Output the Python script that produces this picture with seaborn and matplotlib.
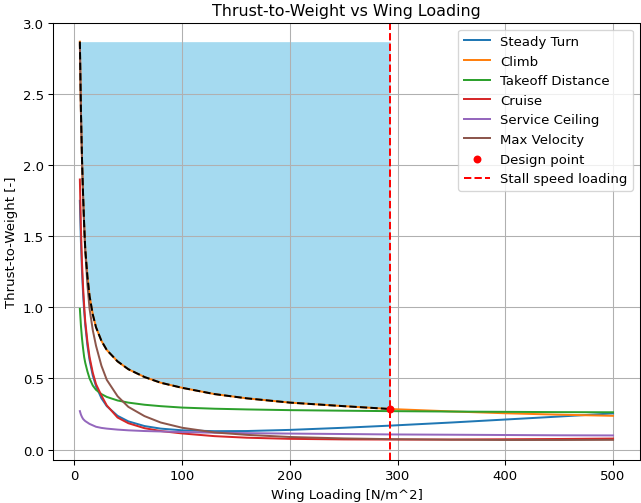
import numpy as np
import pandas as pd
import matplotlib
matplotlib.use("Agg")
import matplotlib.pyplot as plt
import seaborn as sns

# wing loading samples [N/m^2]
wing_loading = [5, 6, 7, 8, 9, 10, 12, 14, 17, 20, 25, 30, 40, 50, 65, 80,
                100, 130, 160, 200, 250, 293, 350, 400, 450, 500]

# T/W, one list per constraint
steady_turn = [1.75, 1.46, 1.25, 1.095, 0.975, 0.878, 0.733, 0.63, 0.52, 0.446,
               0.361, 0.305, 0.237, 0.198, 0.165, 0.147, 0.135, 0.129, 0.130,
               0.138, 0.153, 0.168, 0.19, 0.211, 0.232, 0.254]
climb = [2.87, 2.38, 2.04, 1.79, 1.58, 1.41, 1.22, 1.08, 0.95, 0.86, 0.765,
         0.70, 0.62, 0.565, 0.51, 0.47, 0.434, 0.39, 0.36, 0.33, 0.305,
         0.285, 0.268, 0.255, 0.245, 0.237]
takeoff = [0.99, 0.87, 0.78, 0.71, 0.65, 0.61, 0.55, 0.50, 0.45, 0.42, 0.39,
           0.37, 0.345, 0.33, 0.315, 0.305, 0.295, 0.287, 0.282, 0.277, 0.273,
           0.27, 0.267, 0.265, 0.263, 0.262]
cruise = [1.90, 1.55, 1.31, 1.14, 1.01, 0.90, 0.76, 0.65, 0.54, 0.46, 0.38,
          0.31, 0.225, 0.185, 0.15, 0.13, 0.113, 0.094, 0.083, 0.075, 0.071,
          0.070, 0.070, 0.072, 0.074, 0.077]
service_ceiling = [0.27, 0.245, 0.228, 0.215, 0.207, 0.20, 0.19, 0.18, 0.17,
                   0.16, 0.152, 0.147, 0.14, 0.135, 0.13, 0.127, 0.123, 0.118,
                   0.115, 0.112, 0.109, 0.106, 0.104, 0.102, 0.10, 0.099]
max_velocity = [2.85, 2.37, 2.03, 1.77, 1.57, 1.40, 1.16, 0.99, 0.84, 0.73,
                0.59, 0.49, 0.375, 0.30, 0.235, 0.19, 0.153, 0.12, 0.103, 0.088,
                0.078, 0.073, 0.069, 0.067, 0.067, 0.068]

curve_names = ["Steady Turn", "Climb", "Takeoff Distance", "Cruise",
               "Service Ceiling", "Max Velocity"]
curves = [steady_turn, climb, takeoff, cruise, service_ceiling, max_velocity]

stall_loading = 293
design_tw = 0.285

# 包络线：各约束取最大，只到失速翼载为止
x = np.array(wing_loading)
envelope = np.max(np.array(curves), axis=0)
mask = x <= stall_loading
x_env = x[mask]
y_env = envelope[mask]

dpi = 95
fig, ax = plt.subplots(figsize=(641 / dpi, 504 / dpi), dpi=dpi)
fig.subplots_adjust(left=0.083, right=0.998, top=0.952, bottom=0.085)

palette = sns.color_palette("tab10")
for i, (name, vals) in enumerate(zip(curve_names, curves)):
    sns.lineplot(x=wing_loading, y=vals, ax=ax, color=palette[i], label=name,
                 linewidth=1.5)

ax.fill_between(x_env, y_env, y_env.max(), color="skyblue", alpha=0.75,
                linewidth=0)
sns.lineplot(x=x_env, y=y_env, ax=ax, color="black", linestyle="--",
             linewidth=1.5, label="_nolegend_")

sns.scatterplot(x=[stall_loading], y=[design_tw], ax=ax, color="red", s=36,
                linewidth=0, label="Design point", zorder=5)
ax.axvline(stall_loading, color="red", linestyle="--", linewidth=1.5,
           label="Stall speed loading")

ax.set_xlim(-19.75, 524.75)
ax.set_ylim(-0.075, 3.0)
ax.set_title("Thrust-to-Weight vs Wing Loading")
ax.set_xlabel("Wing Loading [N/m^2]")
ax.set_ylabel("Thrust-to-Weight [-]")
ax.grid(True)
ax.legend(loc="upper right")

plt.savefig("out.png", dpi=dpi)
plt.close()
